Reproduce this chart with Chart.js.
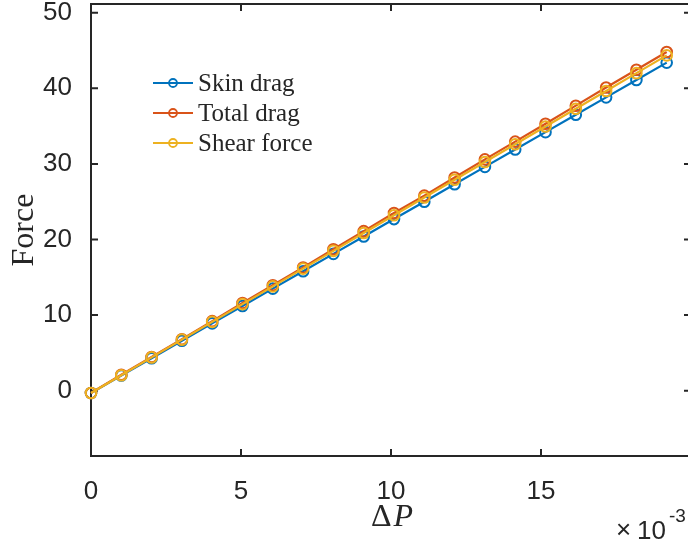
<!DOCTYPE html>
<html>
<head>
<meta charset="utf-8">
<script src="https://cdn.jsdelivr.net/npm/chart.js@4.4.1/dist/chart.umd.min.js"></script>
<style>
  html, body { margin: 0; padding: 0; background: #fff; overflow: hidden; }
  #wrap { width: 694px; height: 540px; }
</style>
</head>
<body>
<div id="wrap"><canvas id="myChart" width="694" height="540" style="width:694px;height:540px"></canvas></div>
<script>
// x in units of 1e-3
const deltaP = [0, 1.01, 2.02, 3.03, 4.04, 5.05, 6.06, 7.07, 8.08, 9.09, 10.1, 11.11, 12.12, 13.13, 14.14, 15.15, 16.16, 17.17, 18.18, 19.19];
const skinDrag = [-0.3, 2.0, 4.3, 6.6, 8.9, 11.2, 13.5, 15.8, 18.1, 20.4, 22.7, 25.0, 27.3, 29.6, 31.9, 34.2, 36.5, 38.8, 41.1, 43.4];
const totalDrag = [-0.3, 2.1, 4.45, 6.8, 9.2, 11.6, 13.95, 16.3, 18.7, 21.1, 23.5, 25.8, 28.2, 30.6, 32.95, 35.3, 37.7, 40.1, 42.45, 44.8];
const shearForce = [-0.3, 2.05, 4.4, 6.75, 9.1, 11.45, 13.8, 16.15, 18.5, 20.85, 23.2, 25.55, 27.9, 30.25, 32.6, 34.95, 37.3, 39.65, 42.0, 44.35];
const seriesNames = ["Skin drag", "Total drag", "Shear force"];
const xTicks = [0, 5, 10, 15, 20];
const yTicks = [0, 10, 20, 30, 40, 50];

const colors = ["#0072BD", "#D95319", "#EDB120"];
const axisColor = "#262626";
const sans = "'Liberation Sans', Arial, sans-serif";
const serif = "'Liberation Serif', 'Times New Roman', serif";

const makeSet = (name, ys, i) => ({
  label: name,
  data: deltaP.map((x, k) => ({ x: x, y: ys[k] })),
  borderColor: colors[i],
  pointBorderColor: colors[i],
  pointBackgroundColor: "rgba(0,0,0,0)",
  borderWidth: 2.2,
  pointRadius: 5.3,
  pointBorderWidth: 2,
  clip: false,
  order: 2 - i, // later series on top, like matlab
});

// box, inward ticks, axis titles, legend
const matlabAxes = {
  id: "matlabAxes",
  beforeDatasetsDraw(chart) {
    const { ctx, chartArea: a, scales } = chart;
    ctx.save();
    ctx.strokeStyle = axisColor;
    ctx.lineWidth = 2;
    ctx.strokeRect(a.left, a.top, a.right - a.left, a.bottom - a.top);
    const tl = 7;
    ctx.beginPath();
    xTicks.forEach((v) => {
      const px = scales.x.getPixelForValue(v);
      ctx.moveTo(px, a.bottom); ctx.lineTo(px, a.bottom - tl);
      ctx.moveTo(px, a.top); ctx.lineTo(px, a.top + tl);
    });
    yTicks.forEach((v) => {
      const py = scales.y.getPixelForValue(v);
      ctx.moveTo(a.left, py); ctx.lineTo(a.left + tl, py);
      ctx.moveTo(a.right, py); ctx.lineTo(a.right - tl, py);
    });
    ctx.stroke();
    ctx.restore();
  },
  afterDraw(chart) {
    const { ctx } = chart;
    ctx.save();
    ctx.fillStyle = axisColor;
    // x title: upright delta, italic P
    ctx.textBaseline = "alphabetic";
    ctx.font = "32px " + serif;
    const dW = ctx.measureText("\u0394").width;
    ctx.font = "italic 32px " + serif;
    const pW = ctx.measureText("P").width;
    let x0 = 391 - (dW + pW) / 2;
    ctx.font = "32px " + serif;
    ctx.fillText("\u0394", x0, 526);
    ctx.font = "italic 32px " + serif;
    ctx.fillText("P", x0 + dW + 2, 526);

    // y title
    ctx.save();
    ctx.translate(33, 230);
    ctx.rotate(-Math.PI / 2);
    ctx.font = "32px " + serif;
    ctx.textAlign = "center";
    ctx.fillText("Force", 0, 0);
    ctx.restore();

    // exponent
    ctx.textAlign = "left";
    ctx.font = "26px " + sans;
    ctx.fillText("\u00d7", 616, 538);
    ctx.fillText("10", 637, 539);
    ctx.font = "19px " + sans;
    ctx.fillText("-3", 669, 522);

    // legend
    ctx.font = "25px " + serif;
    ctx.textBaseline = "middle";
    seriesNames.forEach((name, i) => {
      const y = 83 + i * 30;
      ctx.strokeStyle = colors[i];
      ctx.lineWidth = 2.2;
      ctx.beginPath();
      ctx.moveTo(153, y); ctx.lineTo(193, y);
      ctx.stroke();
      ctx.lineWidth = 1.8;
      ctx.beginPath();
      ctx.arc(173, y, 4, 0, Math.PI * 2);
      ctx.stroke();
      ctx.fillStyle = axisColor;
      ctx.fillText(name, 198, y + 1);
    });
    ctx.restore();
  },
};

const ctx = document.getElementById("myChart").getContext("2d");
const myChart = new Chart(ctx, {
  type: "line",
  data: {
    datasets: [
      makeSet(seriesNames[0], skinDrag, 0),
      makeSet(seriesNames[1], totalDrag, 1),
      makeSet(seriesNames[2], shearForce, 2),
    ],
  },
  options: {
    responsive: false,
    animation: false,
    devicePixelRatio: 1,
    layout: { autoPadding: false, padding: { top: 4, right: 3, left: 0, bottom: 0 } },
    plugins: {
      legend: { display: false },
      tooltip: { enabled: false },
    },
    elements: { line: { tension: 0 } },
    scales: {
      x: {
        type: "linear",
        min: 0,
        max: 20,
        grid: { display: false },
        border: { display: false },
        afterBuildTicks: (s) => { s.ticks = xTicks.slice(0, 4).map((v) => ({ value: v })); },
        afterFit: (s) => { s.height = 84; s.paddingLeft = 0; s.paddingRight = 0; },
        ticks: {
          color: axisColor,
          font: { family: sans, size: 26 },
          padding: 12,
          maxRotation: 0,
        },
      },
      y: {
        type: "linear",
        min: -8.64,
        max: 51.15,
        grid: { display: false },
        border: { display: false },
        afterBuildTicks: (s) => { s.ticks = yTicks.map((v) => ({ value: v })); },
        afterFit: (s) => { s.width = 91; s.paddingTop = 0; s.paddingBottom = 0; },
        ticks: {
          color: axisColor,
          font: { family: sans, size: 26 },
          padding: 11,
        },
      },
    },
  },
  plugins: [matlabAxes],
});
</script>
</body>
</html>
